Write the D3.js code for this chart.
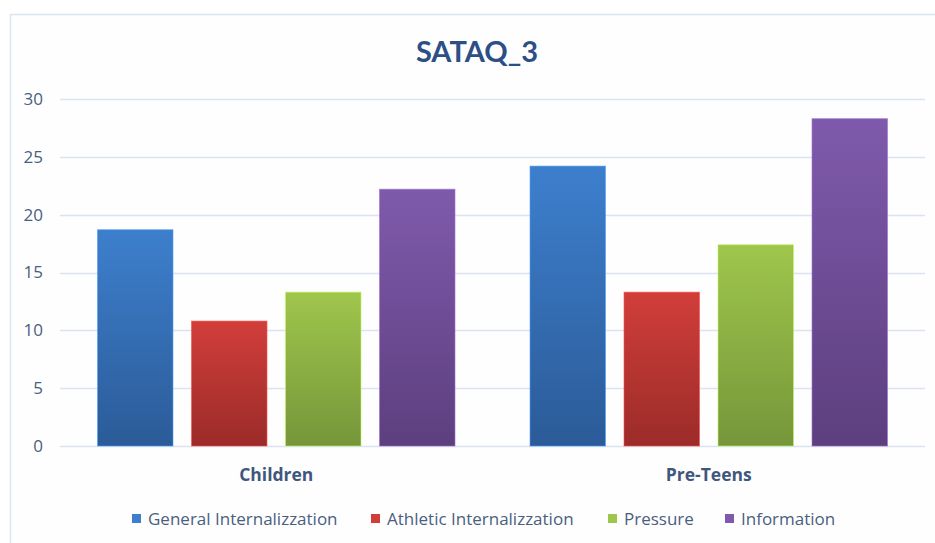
<!DOCTYPE html>
<html><head><meta charset="utf-8">
<script src="https://cdnjs.cloudflare.com/ajax/libs/d3/7.8.5/d3.min.js"></script>
<style>body{margin:0;background:#fff;} svg{display:block;}</style>
</head><body>
<script>
const title = "SATAQ_3";
const categories = ["Children", "Pre-Teens"];
const seriesNames = ["General Internalizzation", "Athletic Internalizzation", "Pressure", "Information"];
const generalInternalization = [18.7, 24.2];
const athleticInternalization = [10.8, 13.3];
const pressure = [13.3, 17.4];
const information = [22.2, 28.3];
const yTicks = [0, 5, 10, 15, 20, 25, 30];
const colorsTop = ["#3D7FCD", "#D13E3A", "#9FC64C", "#7F5AAC"];
const colorsBottom = ["#2B5B98", "#9B2B29", "#76963A", "#5D3F7E"];

const series = [generalInternalization, athleticInternalization, pressure, information];
const W = 935, H = 543;
const svg = d3.select("body").append("svg").attr("width", W).attr("height", H);
const titleFont = "Lato, 'Open Sans', sans-serif";
const font = "'Open Sans', Lato, sans-serif";

const defs = svg.append("defs");
colorsTop.forEach((c, i) => {
  const g = defs.append("linearGradient").attr("id", "g" + i).attr("x1", 0).attr("y1", 0).attr("x2", 0).attr("y2", 1);
  g.append("stop").attr("offset", "0%").attr("stop-color", c);
  g.append("stop").attr("offset", "100%").attr("stop-color", colorsBottom[i]);
});

// chart border
svg.append("rect").attr("x", 10.5).attr("y", 14.5).attr("width", 940).attr("height", 540)
  .attr("fill", "#fefefe").attr("stroke", "#dce6f2").attr("stroke-width", 1.5);

const x0 = d3.scaleBand().domain(categories).range([60, 925]).paddingInner(0).paddingOuter(0);
const x1 = d3.scaleBand().domain(d3.range(4)).range([0, x0.bandwidth()]).paddingInner(0.197).paddingOuter(0.399);
const y = d3.scaleLinear().domain([0, 30]).range([446, 99]);

// gridlines
svg.append("g").selectAll("line").data(yTicks).join("line")
  .attr("x1", 60).attr("x2", 925)
  .attr("y1", d => Math.round(y(d)) + 0.5).attr("y2", d => Math.round(y(d)) + 0.5)
  .attr("stroke", "#d9e3f1").attr("stroke-width", 1.5);

// y axis labels
const yAxis = d3.axisLeft(y).tickValues(yTicks).tickSize(0).tickPadding(0);
const ya = svg.append("g").attr("transform", "translate(43,0)").call(yAxis);
ya.select(".domain").remove();
ya.selectAll("text").attr("font-family", font).attr("font-size", 17).attr("fill", "#4a5f80");

// bars
const groups = svg.append("g").selectAll("g").data(categories).join("g")
  .attr("transform", d => `translate(${x0(d)},0)`);
groups.selectAll("rect").data((d, ci) => series.map((s, si) => ({si, v: s[ci]}))).join("rect")
  .attr("x", d => x1(d.si)).attr("width", x1.bandwidth())
  .attr("y", d => y(d.v)).attr("height", d => y(0) - y(d.v))
  .attr("fill", d => `url(#g${d.si})`)
  .attr("stroke", d => d3.color(colorsTop[d.si]).brighter(0.6)).attr("stroke-opacity", 0.6).attr("stroke-width", 1);

// category labels
const xAxis = d3.axisBottom(x0).tickSize(0).tickPadding(0);
const xa = svg.append("g").attr("transform", "translate(0,481)").call(xAxis);
xa.select(".domain").remove();
xa.selectAll("text").attr("font-family", font).attr("font-size", 17.5).attr("font-weight", "bold")
  .attr("fill", "#3f577c").attr("dy", 0).attr("y", 0);

// title
svg.append("text").attr("x", 477).attr("y", 62).attr("text-anchor", "middle")
  .attr("font-family", titleFont).attr("font-size", 29).attr("font-weight", "bold").attr("fill", "#2c4f86")
  .text(title);

// legend
const legendX = [132, 371, 608, 725];
const lg = svg.append("g").selectAll("g").data(seriesNames).join("g")
  .attr("transform", (d, i) => `translate(${legendX[i]},0)`);
lg.append("rect").attr("x", 0).attr("y", 514).attr("width", 9).attr("height", 9)
  .attr("fill", (d, i) => colorsTop[i]);
lg.append("text").attr("x", 16).attr("y", 525).attr("font-family", font).attr("font-size", 17)
  .attr("fill", "#4a5f80").text(d => d);
</script>
</body></html>
